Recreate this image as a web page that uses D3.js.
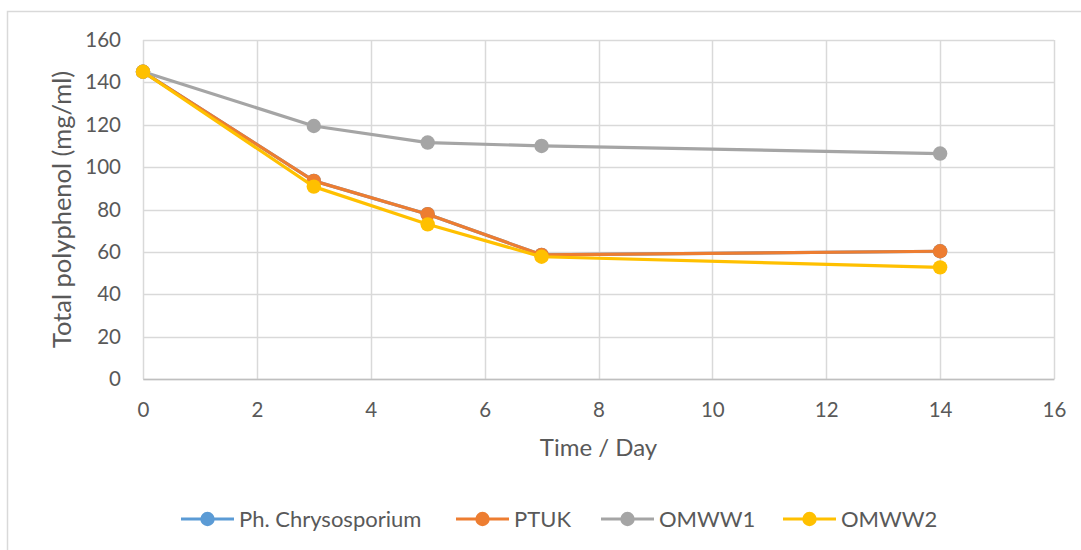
<!DOCTYPE html>
<html>
<head>
<meta charset="utf-8">
<script src="https://cdn.jsdelivr.net/npm/d3@7"></script>
<style>
  html, body { margin: 0; padding: 0; background: #fff; }
  svg { display: block; font-family: Lato, "Open Sans", sans-serif; }
</style>
</head>
<body>
<svg id="chart" width="1081" height="550"></svg>
<script>
// Sampling days
const days = [0, 3, 5, 7, 14];

// Total polyphenol (mg/ml) per treatment
const phChrysosporium = [145, 93.5, 77.8, 58.6, 60.3];
const ptuk            = [145, 93.5, 77.8, 58.6, 60.3];
const omww1           = [145, 119.4, 111.6, 110, 106.4];
const omww2           = [145, 90.8, 73, 57.7, 52.7];

const seriesNames  = ["Ph. Chrysosporium", "PTUK", "OMWW1", "OMWW2"];
const seriesValues = [phChrysosporium, ptuk, omww1, omww2];
const seriesColors = ["#5b9bd5", "#ed7d31", "#a5a5a5", "#ffc000"];

const xTicks = [0, 2, 4, 6, 8, 10, 12, 14, 16];
const yTicks = [0, 20, 40, 60, 80, 100, 120, 140, 160];

const svg = d3.select("#chart");
const textColor = "#595959";
const gridColor = "#d9d9d9";

// Chart frame
svg.append("rect")
  .attr("x", 7.5).attr("y", 11.5)
  .attr("width", 1090).attr("height", 560)
  .attr("fill", "#fff")
  .attr("stroke", gridColor).attr("stroke-width", 1.5);

const plot = { left: 143, right: 1054, top: 40, bottom: 379 };

const x = d3.scaleLinear().domain([0, 16]).range([plot.left, plot.right]);
const y = d3.scaleLinear().domain([0, 160]).range([plot.bottom, plot.top]);

// Gridlines
const grid = svg.append("g");
grid.selectAll("line.h").data(yTicks).join("line")
  .attr("x1", plot.left).attr("x2", plot.right)
  .attr("y1", d => Math.round(y(d)) + 0.5).attr("y2", d => Math.round(y(d)) + 0.5)
  .attr("stroke", gridColor).attr("stroke-width", 1.5);
grid.selectAll("line.v").data(xTicks).join("line")
  .attr("y1", plot.top).attr("y2", plot.bottom)
  .attr("x1", d => Math.round(x(d)) + 0.5).attr("x2", d => Math.round(x(d)) + 0.5)
  .attr("stroke", gridColor).attr("stroke-width", 1.5);

// Axes (labels only; lines come from the grid)
const xAxis = svg.append("g")
  .attr("transform", `translate(0,${plot.bottom})`)
  .call(d3.axisBottom(x).tickValues(xTicks).tickSize(0).tickPadding(23));
const yAxis = svg.append("g")
  .attr("transform", `translate(${plot.left},0)`)
  .call(d3.axisLeft(y).tickValues(yTicks).tickSize(0).tickPadding(22));
[xAxis, yAxis].forEach(g => {
  g.select(".domain").attr("stroke", "#bfbfbf").attr("stroke-width", 1.5);
  g.selectAll("text").attr("fill", textColor).attr("font-size", 20.5)
    .attr("font-family", "Lato, sans-serif");
});
yAxis.select(".domain").remove();

// Axis titles
svg.append("text")
  .attr("x", (plot.left + plot.right) / 2 + 0).attr("y", 456)
  .attr("text-anchor", "middle")
  .attr("fill", textColor).attr("font-size", 24)
  .text("Time / Day");
svg.append("text")
  .attr("transform", `translate(62,${(plot.top + plot.bottom) / 2}) rotate(-90)`)
  .attr("text-anchor", "middle")
  .attr("dy", "0.35em")
  .attr("fill", textColor).attr("font-size", 25.5)
  .text("Total polyphenol (mg/ml)");

// Series lines and markers
const line = d3.line().x((d, i) => x(days[i])).y(d => y(d));
seriesValues.forEach((vals, si) => {
  const g = svg.append("g");
  g.append("path")
    .datum(vals)
    .attr("d", line)
    .attr("fill", "none")
    .attr("stroke", seriesColors[si])
    .attr("stroke-width", 3.2)
    .attr("stroke-linejoin", "round")
    .attr("stroke-linecap", "round");
  g.selectAll("circle").data(vals).join("circle")
    .attr("cx", (d, i) => x(days[i]))
    .attr("cy", d => y(d))
    .attr("r", 7.2)
    .attr("fill", seriesColors[si]);
});

// Legend
const legendY = 519;
const legendX = [181, 456, 601, 783];
const legend = svg.append("g");
seriesNames.forEach((name, i) => {
  const g = legend.append("g").attr("transform", `translate(${legendX[i]},${legendY})`);
  g.append("line").attr("x1", 0).attr("x2", 53).attr("y1", 0).attr("y2", 0)
    .attr("stroke", seriesColors[i]).attr("stroke-width", 3.2);
  g.append("circle").attr("cx", 26.5).attr("cy", 0).attr("r", 7.2).attr("fill", seriesColors[i]);
  g.append("text").attr("x", 58).attr("y", 0).attr("dy", "0.35em")
    .attr("fill", textColor).attr("font-size", 22)
    .text(name);
});
</script>
</body>
</html>
